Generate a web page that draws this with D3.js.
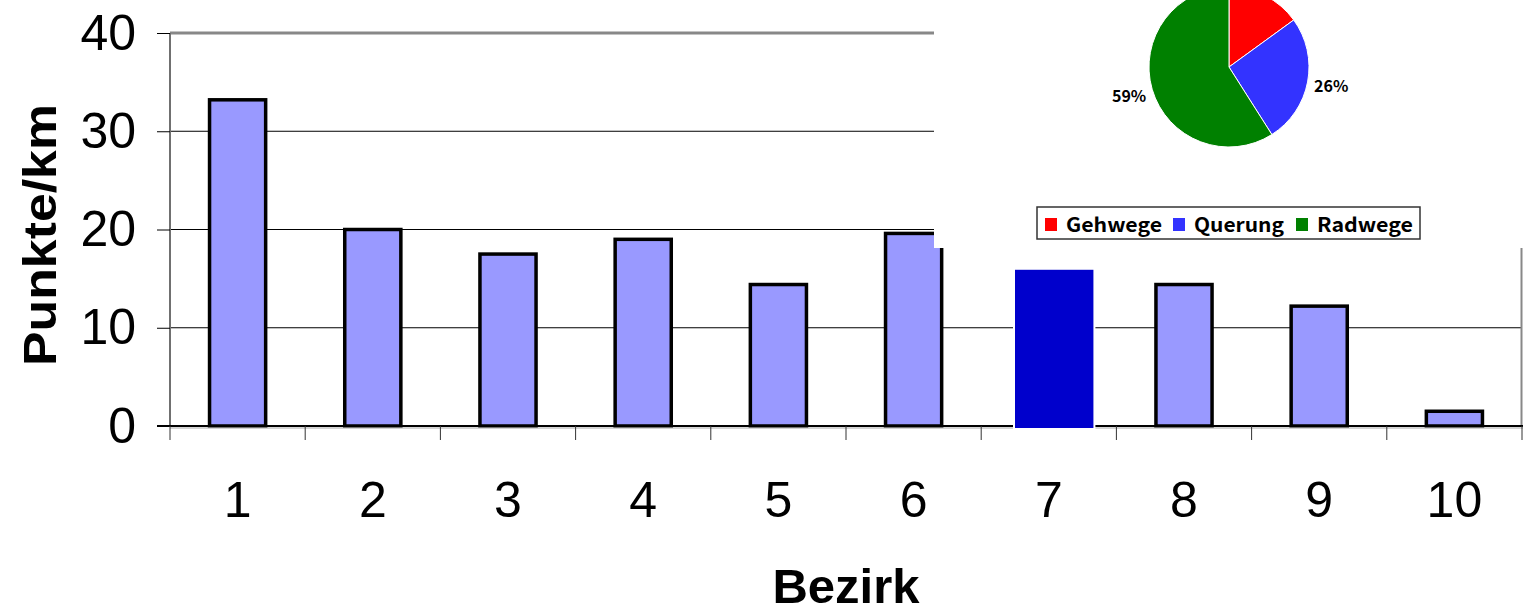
<!DOCTYPE html>
<html>
<head>
<meta charset="utf-8">
<script src="https://cdn.jsdelivr.net/npm/d3@7"></script>
<style>
  body { margin: 0; background: #fff; }
  svg { display: block; }
</style>
</head>
<body>
<div id="chart"></div>
<script>
// bar chart data
var bezirke = ["1", "2", "3", "4", "5", "6", "7", "8", "9", "10"];
var punkte = [33.2, 20.0, 17.5, 19.0, 14.4, 19.6, 15.9, 14.4, 12.2, 1.5];
var highlight = "7";
var yTicks = [0, 10, 20, 30, 40];

// pie data
var pieLabels = ["Gehwege", "Querung", "Radwege"];
var pieValues = [15, 26, 59];
var pieColors = ["#ff0000", "#3333ff", "#008000"];

var W = 1523, H = 612;
var margin = { top: 33, right: 1, bottom: 186, left: 170 };
var width = W - margin.left - margin.right,
    height = H - margin.top - margin.bottom;

var svg = d3.select("#chart").append("svg")
  .attr("width", W)
  .attr("height", H);

var x = d3.scaleBand().domain(bezirke).range([margin.left, margin.left + width]);
var xIdx = d3.scaleLinear().domain([0, bezirke.length]).range([margin.left, margin.left + width]);
var y = d3.scaleLinear().domain([0, 40]).range([margin.top + height, margin.top]);

// gridlines
svg.append("g").selectAll("line")
  .data(yTicks.filter(function(d) { return d > 0 && d < 40; }))
  .enter().append("line")
  .attr("x1", margin.left).attr("x2", margin.left + width)
  .attr("y1", function(d) { return y(d); }).attr("y2", function(d) { return y(d); })
  .attr("stroke", "#000").attr("stroke-width", 1);

// plot area border (grey)
svg.append("line")
  .attr("x1", margin.left).attr("x2", margin.left + width)
  .attr("y1", y(40)).attr("y2", y(40))
  .attr("stroke", "#888").attr("stroke-width", 3);
svg.append("line")
  .attr("x1", margin.left).attr("x2", margin.left)
  .attr("y1", y(40)).attr("y2", y(0))
  .attr("stroke", "#707070").attr("stroke-width", 2);
svg.append("line")
  .attr("x1", margin.left + width - 0.5).attr("x2", margin.left + width - 0.5)
  .attr("y1", y(40)).attr("y2", y(0))
  .attr("stroke", "#888").attr("stroke-width", 2);

// y axis
var yAxis = d3.axisLeft(y).tickValues(yTicks).tickSize(13).tickPadding(21);
svg.append("g")
  .attr("transform", "translate(" + margin.left + ",0)")
  .call(yAxis)
  .call(function(g) { g.select(".domain").remove(); })
  .call(function(g) {
    g.selectAll("text")
      .attr("font-family", "'Liberation Sans', Arial, sans-serif")
      .attr("font-size", 50).attr("fill", "#000");
    g.selectAll("line").attr("stroke", "#000");
  });

// normal bars
var bw = x.bandwidth() * 0.415;
svg.append("g").selectAll("rect")
  .data(bezirke.filter(function(d) { return d !== highlight; }))
  .enter().append("rect")
  .attr("x", function(d) { return x(d) + x.bandwidth() / 2 - bw / 2; })
  .attr("width", bw)
  .attr("y", function(d) { return y(punkte[bezirke.indexOf(d)]); })
  .attr("height", function(d) { return y(0) - y(punkte[bezirke.indexOf(d)]); })
  .attr("fill", "#9999ff")
  .attr("stroke", "#000")
  .attr("stroke-width", 3.5);

// x axis line and boundary ticks
svg.append("line")
  .attr("x1", margin.left - 13).attr("x2", W)
  .attr("y1", y(0)).attr("y2", y(0))
  .attr("stroke", "#000").attr("stroke-width", 2);
svg.append("line")
  .attr("x1", margin.left).attr("x2", W)
  .attr("y1", y(0) + 2).attr("y2", y(0) + 2)
  .attr("stroke", "#aaa").attr("stroke-width", 1);
svg.append("g").selectAll("line")
  .data(d3.range(bezirke.length + 1))
  .enter().append("line")
  .attr("x1", function(d) { return xIdx(d); }).attr("x2", function(d) { return xIdx(d); })
  .attr("y1", y(0)).attr("y2", y(0) + 14)
  .attr("stroke", "#333").attr("stroke-width", 1);

// highlighted bar (pasted look, white frame)
var hw = x.bandwidth() * 0.58;
var hv = punkte[bezirke.indexOf(highlight)];
var hx = x(highlight) + x.bandwidth() / 2 - hw / 2 + x.bandwidth() * 0.04;
svg.append("rect")
  .attr("x", hx).attr("width", hw)
  .attr("y", y(hv)).attr("height", y(0) - y(hv) + 2)
  .attr("fill", "#0000cc")
  .attr("stroke", "#fff").attr("stroke-width", 4);
svg.append("rect")
  .attr("x", hx).attr("width", hw)
  .attr("y", y(hv)).attr("height", y(0) - y(hv) + 2)
  .attr("fill", "#0000cc");

// x labels
var xAxis = d3.axisBottom(x).tickSize(0).tickPadding(55);
svg.append("g")
  .attr("transform", "translate(0," + y(0) + ")")
  .call(xAxis)
  .call(function(g) { g.select(".domain").remove(); })
  .call(function(g) {
    g.selectAll("text")
      .attr("font-family", "'Liberation Sans', Arial, sans-serif")
      .attr("font-size", 50).attr("fill", "#000");
  });

// axis titles
svg.append("text")
  .attr("transform", "translate(56,235) rotate(-90)")
  .attr("text-anchor", "middle")
  .attr("font-family", "'Liberation Sans', Arial, sans-serif")
  .attr("font-weight", "bold")
  .attr("font-size", 46)
  .attr("textLength", 262).attr("lengthAdjust", "spacingAndGlyphs")
  .text("Punkte/km");

svg.append("text")
  .attr("x", 846).attr("y", 603)
  .attr("text-anchor", "middle")
  .attr("font-family", "'Liberation Sans', Arial, sans-serif")
  .attr("font-weight", "bold")
  .attr("font-size", 49)
  .text("Bezirk");

// inset: white box with pie and legend
svg.append("rect")
  .attr("x", 934).attr("y", 0)
  .attr("width", W - 934).attr("height", 248)
  .attr("fill", "#fff");

var pie = d3.pie().sort(null).value(function(d) { return d; });
var arcs = pie(pieValues);
var r = 80;
var cx = 1229, cy = 67;
var arc = d3.arc().innerRadius(0).outerRadius(r);
var labelArc = d3.arc().innerRadius(104).outerRadius(104);

var pg = svg.append("g").attr("transform", "translate(" + cx + "," + cy + ")");
pg.selectAll("path")
  .data(arcs)
  .enter().append("path")
  .attr("d", arc)
  .attr("fill", function(d, i) { return pieColors[i]; })
  .attr("stroke", "#fff").attr("stroke-width", 1);

// labels that fall above the picture edge are not shown (as in the original)
var total = d3.sum(pieValues);
pg.selectAll("text")
  .data(arcs.filter(function(d) { return labelArc.centroid(d)[1] + cy > 10; }))
  .enter().append("text")
  .attr("transform", function(d) { return "translate(" + labelArc.centroid(d) + ")"; })
  .attr("text-anchor", "middle")
  .attr("dy", "0.35em")
  .attr("font-family", "'Noto Sans CJK JP', 'Noto Sans', sans-serif")
  .attr("font-weight", "bold")
  .attr("font-size", 16)
  .text(function(d) { return Math.round(d.value / total * 100) + "%"; });

// legend
var lg = svg.append("g");
lg.append("rect")
  .attr("x", 1037).attr("y", 207)
  .attr("width", 383).attr("height", 32)
  .attr("fill", "#fff").attr("stroke", "#333").attr("stroke-width", 1.5);

var legX = [1045, 1173, 1296];
var legW = [96, 90, 96];
pieLabels.forEach(function(name, i) {
  lg.append("rect")
    .attr("x", legX[i]).attr("y", 218)
    .attr("width", 12).attr("height", 13)
    .attr("fill", pieColors[i]);
  lg.append("text")
    .attr("x", legX[i] + 21).attr("y", 232)
    .attr("font-family", "'Noto Sans CJK JP', 'Noto Sans', sans-serif")
    .attr("font-weight", "bold")
    .attr("font-size", 20)
    .attr("textLength", legW[i]).attr("lengthAdjust", "spacingAndGlyphs")
    .text(name);
});
</script>
</body>
</html>
